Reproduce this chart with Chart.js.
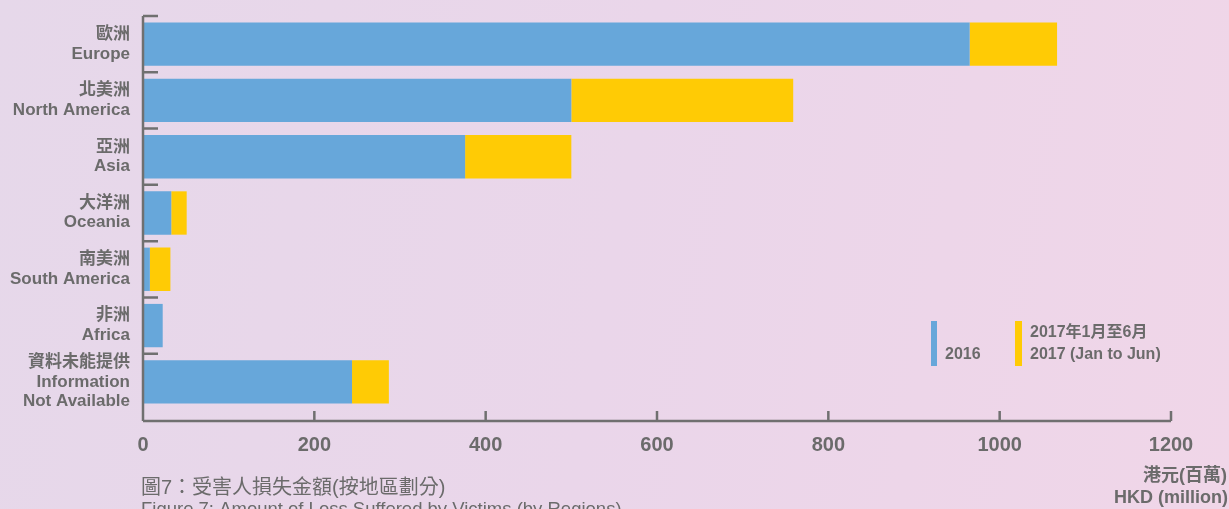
<!DOCTYPE html>
<html>
<head>
<meta charset="utf-8">
<script src="https://cdn.jsdelivr.net/npm/chart.js@4/dist/chart.umd.min.js"></script>
<style>
  html, body { margin: 0; padding: 0; }
  body {
    width: 1229px; height: 509px; overflow: hidden;
    background: linear-gradient(100deg, #e6d8ea 0%, #ead6ea 50%, #f0d6e8 100%);
  }
  #lossChart { display: block; }
</style>
</head>
<body>
<canvas id="lossChart" width="1229" height="509"></canvas>
<script>
// regions (Chinese / English)
var regions = [
	['歐洲', 'Europe'],
	['北美洲', 'North America'],
	['亞洲', 'Asia'],
	['大洋洲', 'Oceania'],
	['南美洲', 'South America'],
	['非洲', 'Africa'],
	['資料未能提供', 'Information', 'Not Available']
];
// HKD million
var loss2016 = [965, 500, 376, 33, 8, 23, 244];
var loss2017 = [102, 259, 124, 18, 24, 0, 43];
var xTicks = [0, 200, 400, 600, 800, 1000, 1200];
var legend2016 = ['2016'];
var legend2017 = ['2017年1月至6月', '2017 (Jan to Jun)'];

var grey = '#6b6b6b';
var fontFam = '"Liberation Sans", Arial, "Noto Sans CJK TC", sans-serif';

// axes, legend and captions drawn by hand
var decorPlugin = {
	id : 'decor',
	afterDraw : function(chart) {
		var ctx = chart.ctx;
		var area = chart.chartArea;
		var xs = chart.scales.x;
		var ys = chart.scales.y;
		var axisY = area.bottom + 11;
		ctx.save();
		ctx.strokeStyle = '#707070';
		ctx.lineWidth = 2.5;
		// y axis + category ticks
		ctx.beginPath();
		ctx.moveTo(area.left, area.top);
		ctx.lineTo(area.left, axisY);
		var half = (ys.getPixelForValue(1) - ys.getPixelForValue(0)) / 2;
		for (var i = 0; i < regions.length; i++) {
			var ty = ys.getPixelForValue(i) - half;
			ctx.moveTo(area.left, ty);
			ctx.lineTo(area.left + 15, ty);
		}
		// x axis + ticks
		ctx.moveTo(area.left, axisY);
		ctx.lineTo(area.right, axisY);
		for (var j = 1; j < xTicks.length; j++) {
			var tx = xs.getPixelForValue(xTicks[j]);
			ctx.moveTo(tx, axisY);
			ctx.lineTo(tx, axisY - 10);
		}
		ctx.stroke();

		// legend
		var ds = chart.data.datasets;
		ctx.fillStyle = ds[0].backgroundColor;
		ctx.fillRect(931, 321, 6, 45);
		ctx.fillStyle = ds[1].backgroundColor;
		ctx.fillRect(1015, 321, 7, 45);
		ctx.fillStyle = grey;
		ctx.font = 'bold 16px ' + fontFam;
		ctx.textAlign = 'left';
		ctx.textBaseline = 'middle';
		ctx.fillText(legend2016[0], 945, 355);
		ctx.fillText(legend2017[0], 1030, 333);
		ctx.fillText(legend2017[1], 1030, 355);

		// axis unit
		ctx.font = 'bold 18px ' + fontFam;
		ctx.textAlign = 'center';
		ctx.fillText('港元(百萬)', 1185, 476);
		ctx.fillText('HKD (million)', 1171, 498);

		// caption
		ctx.textAlign = 'left';
		ctx.font = '20px ' + fontFam;
		ctx.fillText('圖7：受害人損失金額(按地區劃分)', 141, 488);
		ctx.font = '18.5px ' + fontFam;
		ctx.fillText('Figure 7: Amount of Loss Suffered by Victims (by Regions)', 141, 510);
		ctx.restore();
	}
};

var chart = new Chart(document.getElementById('lossChart'), {
	type : 'bar',
	data : {
		labels : regions,
		datasets : [ {
			label : legend2016.join(' '),
			data : loss2016,
			backgroundColor : '#67a7da'
		}, {
			label : legend2017.join(' '),
			data : loss2017,
			backgroundColor : '#ffcb05'
		} ]
	},
	options : {
		indexAxis : 'y',
		responsive : false,
		animation : false,
		layout : {
			padding : { left : 0, top : 16, right : 58, bottom : 49 }
		},
		datasets : {
			bar : { categoryPercentage : 1, barPercentage : 0.77 }
		},
		plugins : {
			legend : { display : false },
			tooltip : { enabled : false }
		},
		scales : {
			x : {
				stacked : true,
				min : 0,
				max : 1200,
				afterBuildTicks : function(scale) {
					scale.ticks = xTicks.map(function(v) { return { value : v }; });
				},
				afterFit : function(scale) {
					scale.height = 50;
					scale.paddingLeft = 0;
					scale.paddingRight = 0;
				},
				grid : { display : false },
				border : { display : false },
				ticks : {
					padding : 15,
					color : grey,
					font : { family : fontFam, size : 20, weight : 'bold' },
					callback : function(v) { return String(v); }
				}
			},
			y : {
				stacked : true,
				afterFit : function(scale) {
					scale.width = 143;
					scale.paddingTop = 0;
					scale.paddingBottom = 0;
				},
				grid : { display : false },
				border : { display : false },
				ticks : {
					autoSkip : false,
					padding : 5,
					color : grey,
					font : { family : fontFam, size : 17, weight : 'bold', lineHeight : 1.15 }
				}
			}
		}
	},
	plugins : [ decorPlugin ]
});
</script>
</body>
</html>
